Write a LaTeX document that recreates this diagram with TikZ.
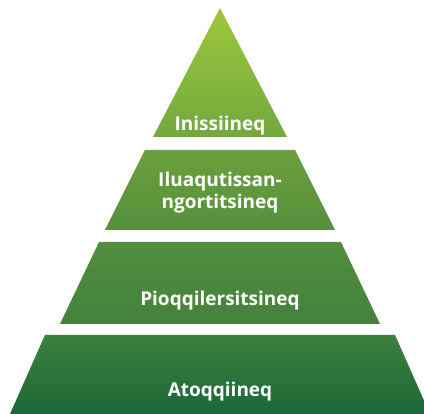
\documentclass[tikz,border=0pt]{standalone}
\usepackage{fontspec}
\setmainfont{Open Sans}
\usepackage{tikz}

\definecolor{gTop}{RGB}{158,200,60}
\definecolor{gA}{RGB}{114,168,62}
\definecolor{gB}{RGB}{108,160,60}
\definecolor{gC}{RGB}{86,144,62}
\definecolor{gD}{RGB}{82,142,62}
\definecolor{gE}{RGB}{68,130,62}
\definecolor{gF}{RGB}{60,128,62}
\definecolor{gG}{RGB}{28,104,56}

\tikzset{
  label/.style={text=white, font=\bfseries\fontsize{19}{22}\selectfont, anchor=base, align=center, inner sep=0pt},
}

\begin{document}
\begin{tikzpicture}[x=1pt,y=-1pt]
    \useasboundingbox (0,0) rectangle (424,414);

    % draw layers
    \shade[top color=gTop, bottom color=gA] (220,8) -- (287,137) -- (153,137) -- cycle;
    \shade[top color=gB, bottom color=gC] (145,150) -- (295,150) -- (335,230) -- (105,230) -- cycle;
    \shade[top color=gD, bottom color=gE] (99,242) -- (341,242) -- (380,324) -- (60,324) -- cycle;
    \shade[top color=gF, bottom color=gG] (45,335) -- (395,335) -- (430,414) -- (10,414) -- cycle;

    % draw labels
    \node[label] (top) at (220,131) {Inissiineq};
    \node[label] (second) at (220,209) {Iluaqutissan-\\ngortitsineq};
    \node[label] (third) at (220,306) {Pioqqilersitsineq};
    \node[label] (base) at (220,397) {Atoqqiineq};
\end{tikzpicture}
\end{document}
